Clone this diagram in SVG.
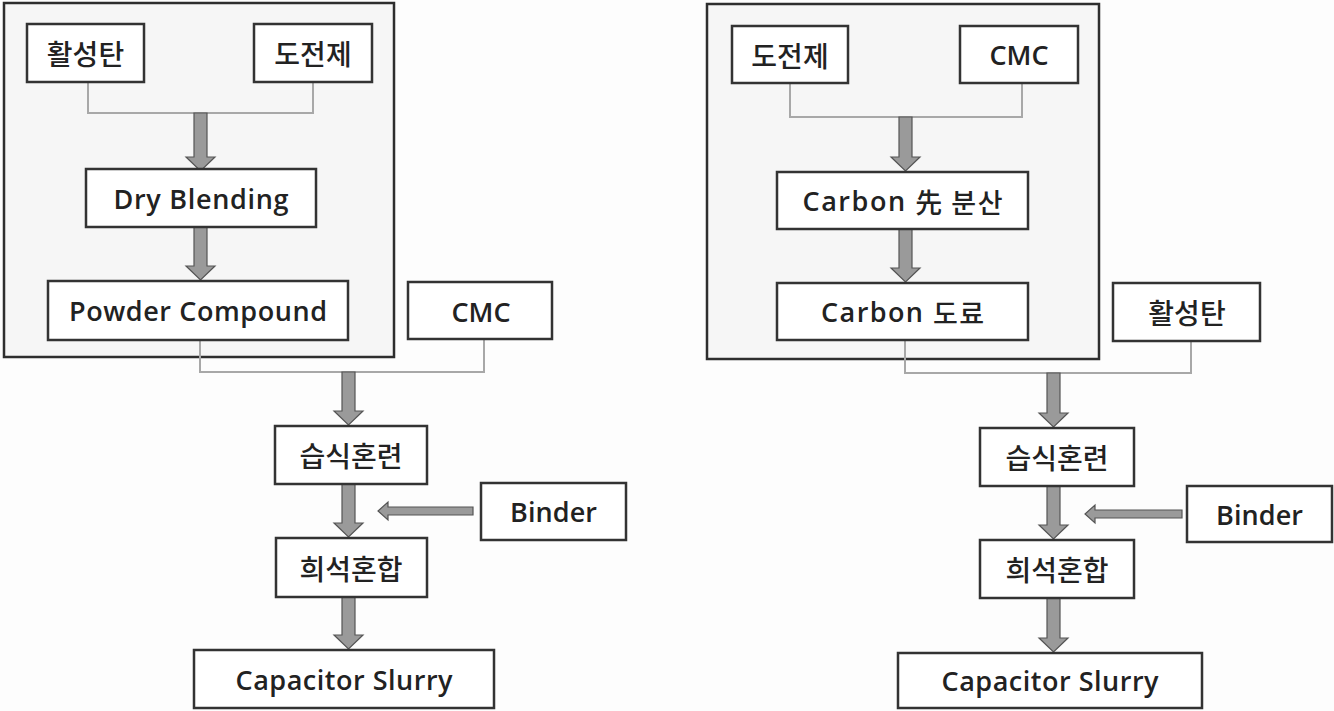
<svg xmlns="http://www.w3.org/2000/svg" width="1334" height="711" viewBox="0 0 1334 711">
<style>
.bg{fill:#fdfdfd}
.outer{fill:#f6f6f6;stroke:#2e2e2e;stroke-width:2.5}
.box{fill:#ffffff;stroke:#333;stroke-width:2.5}
.thin{fill:none;stroke:#a8a8a8;stroke-width:2}
.arr{fill:#9a9a9a;stroke:#555;stroke-width:1.2;stroke-linejoin:miter}
.lat{font-family:"Open Sans","Noto Sans",sans-serif;font-size:27px;font-weight:600;fill:#222}
.kor{font-family:"Noto Sans CJK KR",sans-serif;font-size:28px;font-weight:500;fill:#222}
text{text-anchor:middle;dominant-baseline:central}
</style>
<rect class="bg" x="0" y="0" width="1334" height="711"/>

<g id="left-group"><rect class="outer" x="4" y="3" width="390" height="354"/></g>
<g id="right-group"><rect class="outer" x="707" y="4" width="392" height="355"/></g>

<g id="connectors">
  <polyline class="thin" points="88,82 88,113 313,113 313,82"/>
  <polyline class="thin" points="200,340 200,372 484,372 484,339"/>
  <polyline class="thin" points="790,83 790,117 1022,117 1022,83"/>
  <polyline class="thin" points="905,340 905,373 1191,373 1191,341"/>
  <path class="arr" d="M194,113 L207,113 L207,157 L215,157 L200.5,171 L186,157 L194,157 Z"/>
  <path class="arr" d="M194,227 L207,227 L207,266 L215,266 L200.5,280 L186,266 L194,266 Z"/>
  <path class="arr" d="M342,372 L355,372 L355,411 L363,411 L348.5,425 L334,411 L342,411 Z"/>
  <path class="arr" d="M342,484 L355,484 L355,523 L363,523 L348.5,537 L334,523 L342,523 Z"/>
  <path class="arr" d="M342,597 L355,597 L355,635 L363,635 L348.5,649 L334,635 L342,635 Z"/>
  <path class="arr" d="M473,507 L388,507 L388,502 L378,511 L388,520 L388,515 L473,515 Z"/>
  <path class="arr" d="M899,117 L912,117 L912,157 L920,157 L905.5,171 L891,157 L899,157 Z"/>
  <path class="arr" d="M899,229 L912,229 L912,268 L920,268 L905.5,282 L891,268 L899,268 Z"/>
  <path class="arr" d="M1047,373 L1060,373 L1060,413 L1068,413 L1053.5,427 L1039,413 L1047,413 Z"/>
  <path class="arr" d="M1047,486 L1060,486 L1060,525 L1068,525 L1053.5,539 L1039,525 L1047,525 Z"/>
  <path class="arr" d="M1047,598 L1060,598 L1060,638 L1068,638 L1053.5,652 L1039,638 L1047,638 Z"/>
  <path class="arr" d="M1182,510 L1095,510 L1095,505 L1085,514 L1095,523 L1095,518 L1182,518 Z"/>
</g>

<g id="l-activated-carbon"><rect class="box" x="27" y="24" width="117" height="58"/><text class="kor" x="85.5" y="53">활성탄</text></g>
<g id="l-conductive"><rect class="box" x="254" y="24" width="118" height="58"/><text class="kor" x="313" y="53">도전제</text></g>
<g id="l-dry-blending"><rect class="box" x="86" y="169" width="230" height="58"/><text class="lat" x="201" y="198" textLength="175" lengthAdjust="spacing">Dry Blending</text></g>
<g id="l-powder"><rect class="box" x="48" y="281" width="300" height="59"/><text class="lat" x="198" y="310.5" textLength="258" lengthAdjust="spacing">Powder Compound</text></g>
<g id="l-cmc"><rect class="box" x="408" y="282" width="144" height="57"/><text class="lat" x="481" y="311">CMC</text></g>
<g id="l-wet"><rect class="box" x="275" y="426" width="152" height="58"/><text class="kor" x="351" y="455">습식혼련</text></g>
<g id="l-binder"><rect class="box" x="481" y="483" width="145" height="57"/><text class="lat" x="553.5" y="511.5" textLength="87" lengthAdjust="spacing">Binder</text></g>
<g id="l-dilute"><rect class="box" x="276" y="538" width="151" height="59"/><text class="kor" x="351" y="567.5">희석혼합</text></g>
<g id="l-slurry"><rect class="box" x="194" y="650" width="300" height="58"/><text class="lat" x="344" y="679" textLength="217" lengthAdjust="spacing">Capacitor Slurry</text></g>

<g id="r-conductive"><rect class="box" x="732" y="26" width="116" height="57"/><text class="kor" x="790" y="54.5">도전제</text></g>
<g id="r-cmc"><rect class="box" x="960" y="26" width="118" height="57"/><text class="lat" x="1019" y="54.5">CMC</text></g>
<g id="r-predisperse"><rect class="box" x="777" y="172" width="251" height="57"/><text class="lat" x="902.5" y="200.5" textLength="200" lengthAdjust="spacing">Carbon <tspan class="kor" style="font-size:27px">先 분산</tspan></text></g>
<g id="r-paint"><rect class="box" x="777" y="283" width="251" height="57"/><text class="lat" x="902.5" y="311.5" textLength="163" lengthAdjust="spacing">Carbon <tspan class="kor" style="font-size:27px">도료</tspan></text></g>
<g id="r-activated-carbon"><rect class="box" x="1113" y="283" width="147" height="58"/><text class="kor" x="1187" y="312">활성탄</text></g>
<g id="r-wet"><rect class="box" x="980" y="428" width="154" height="58"/><text class="kor" x="1057" y="457">습식혼련</text></g>
<g id="r-binder"><rect class="box" x="1187" y="486" width="145" height="56"/><text class="lat" x="1259.5" y="514" textLength="87" lengthAdjust="spacing">Binder</text></g>
<g id="r-dilute"><rect class="box" x="980" y="540" width="154" height="58"/><text class="kor" x="1057" y="569">희석혼합</text></g>
<g id="r-slurry"><rect class="box" x="898" y="653" width="304" height="55"/><text class="lat" x="1050" y="680.5" textLength="217" lengthAdjust="spacing">Capacitor Slurry</text></g>
</svg>
